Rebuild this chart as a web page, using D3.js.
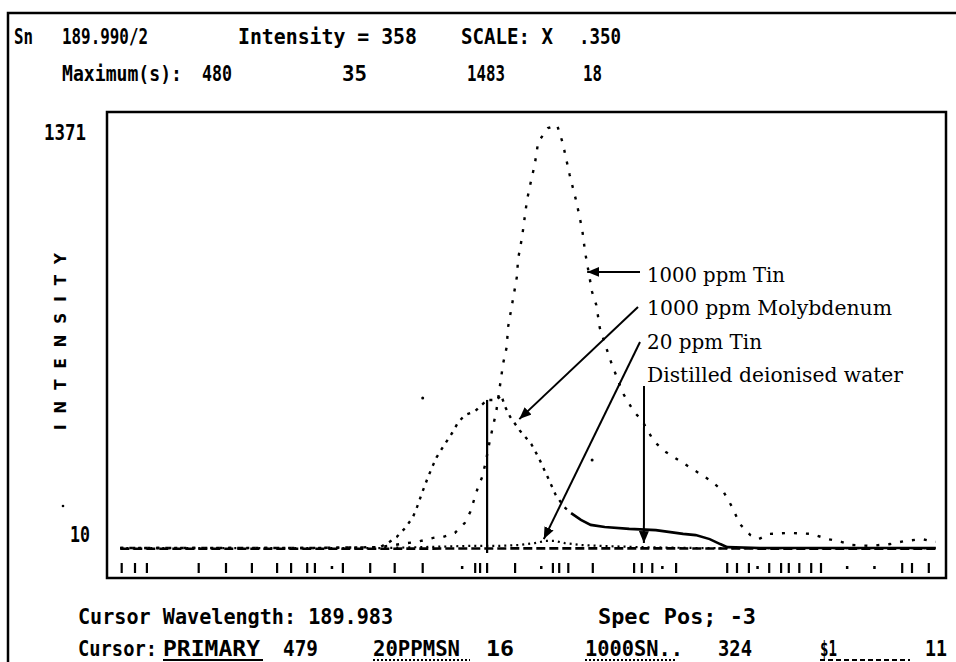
<!DOCTYPE html>
<html><head><meta charset="utf-8">
<script src="https://cdn.jsdelivr.net/npm/d3@7"></script>
<style>body{margin:0;background:#fff}svg{display:block}</style>
</head><body><svg id="c" width="956" height="662"></svg>
<script>
// ---------- data (channel, intensity) ----------
const tin1000 = [[1.9,3],[13.3,3],[27.6,3],[39.0,6],[41.9,16],[44.3,23],[46.6,36],[48.0,39],[49.7,52],[51.1,84],[51.9,120],[53.0,200],[53.6,233],[54.1,281],[54.7,352],[55.6,443],[56.6,601],[57.1,653],[57.3,718],[57.9,795],[58.6,886],[58.7,934],[59.3,1009],[60.0,1128],[60.6,1193],[61.1,1242],[61.6,1316],[63.0,1361],[64.3,1371],[65.1,1313],[66.1,1209],[67.0,1128],[67.4,1086],[67.9,1031],[68.3,960],[69.3,831],[69.9,789],[70.4,715],[71.9,611],[73.7,504],[75.3,443],[76.4,417],[78.1,349],[79.6,317],[82.3,278],[84.1,252],[86.1,223],[88.0,188],[89.3,136],[90.4,81],[91.9,45],[93.1,32],[94.7,49],[97.6,52],[100.6,49],[103.0,32],[104.9,23],[106.4,13],[109.0,10],[111.9,16],[114.0,26],[116.4,32],[118.4,23]];
const moly1000 = [[1.9,3],[27.6,3],[39.0,6],[40.1,19],[41.4,39],[42.6,68],[43.7,103],[44.3,136],[45.0,181],[45.7,223],[46.4,262],[47.1,297],[48.0,330],[49.3,375],[50.1,407],[51.1,433],[52.6,446],[54.3,482],[55.7,482],[56.3,498],[56.9,459],[57.6,427],[59.0,382],[60.6,340],[61.7,294],[63.0,230],[64.1,175],[65.3,136],[66.3,116],[67.7,94],[69.1,78],[71.1,71],[74.6,65],[78.4,61],[82.3,49],[84.1,45],[86.1,32],[87.6,16],[88.6,6],[93.3,3],[118.4,3]];
const molySolidFrom = 66.3;
const tin20 = [[1.9,3],[39.0,3],[44.7,6],[51.9,10],[56.1,10],[59.0,13],[61.1,19],[62.6,26],[64.0,26],[65.4,19],[67.6,13],[70.4,10],[76.1,6],[84.7,3],[118.4,3]];
const water = [[1.9,1],[40,1],[60,2],[80,2],[100,1],[118.4,1]];
const specks = [[45.1,488],[69.3,288]];
const cursorChannel = 54.3;
const cursorTop = 482;
const lineMarks = [2.1,4.0,5.7,13.1,17.0,20.7,24.3,26.3,28.6,29.7,33.7,37.6,41.1,45.1,52.6,53.3,54.3,58.3,63.7,64.6,65.9,69.4,75.3,76.4,77.9,81.3,88.6,90.0,91.7,94.6,96.3,97.4,98.9,100.6,102.0,113.6,115.0,117.4];
const dotMarks = [32.1,50.7,62.0,79.3,92.9,105.7,109.6];
const yTicks = [10,1371];
const yLabel = "INTENSITY";
const header1 = ["Sn","189.990/2","Intensity = 358","SCALE: X",".350"];
const header2 = ["Maximum(s):","480","35","1483","18"];
const footer1 = ["Cursor Wavelength: 189.983","Spec Pos;  -3"];
const footer2 = ["Cursor:","PRIMARY","479","20PPMSN","16","1000SN..","324","$1","11"];
const annotations = [
  {label:"1000 ppm Tin", tip:[68.6,896]},
  {label:"1000 ppm Molybdenum", tip:[58.9,420]},
  {label:"20 ppm Tin", tip:[62.4,32]},
  {label:"Distilled deionised water", tip:[76.7,19]}
];

// ---------- drawing ----------
const svg = d3.select("#c");
const x = d3.scaleLinear().domain([0,120]).range([107,947]);
const y = d3.scaleLinear().domain([0,1371]).range([549,125]);
const line = d3.line().x(d=>x(d[0])).y(d=>y(d[1]));

svg.append("rect").attr("width",956).attr("height",662).attr("fill","#fff");
const defs = svg.append("defs");
defs.append("marker").attr("id","ah").attr("viewBox","0 0 12 10").attr("refX",12).attr("refY",5)
  .attr("markerWidth",12).attr("markerHeight",10).attr("markerUnits","userSpaceOnUse").attr("orient","auto")
  .append("path").attr("d","M0,0L12,5L0,10Z").attr("fill","#000");

// outer frame
svg.append("path").attr("d","M8,662V13H956").attr("fill","none").attr("stroke","#000").attr("stroke-width",2.5);

// terminal-style text: uniform monospace, stretched vertically, fitted to width
const mono = "'DejaVu Sans Mono', monospace";
function termText(data, xs, ws, yPos){
  const gg = svg.append("g");
  gg.selectAll("g").data(data).join("g")
    .attr("transform",(d,i)=>`translate(${xs[i]},${typeof yPos==="function"?yPos(d,i):yPos}) scale(1,1.35)`)
    .append("text").attr("x",0).attr("y",0)
    .attr("font-family",mono).attr("font-weight","bold").attr("font-size",16)
    .attr("textLength",(d,i)=>ws[i]).attr("lengthAdjust","spacingAndGlyphs").text(d=>d);
}

// header
termText(header1, [14,62,238,461,579], [19,86,179,92,42], 44);
termText(header2, [62,202,342,467,583], [120,30,25,38,19], 81);

// plot frame
svg.append("rect").attr("x",x(0)).attr("y",112).attr("width",x(120)-x(0)-1).attr("height",578-112)
  .attr("fill","none").attr("stroke","#000").attr("stroke-width",2.5);

// y tick labels (placed from the y scale)
const yLabOff = [-4, 15];
termText(yTicks.map(String), [70,44], [20,42], (d,i)=>y(yTicks[i])+yLabOff[i]);

// y axis label
svg.append("text").attr("transform","translate(66,430) rotate(-90)")
  .attr("font-family","'DejaVu Sans', sans-serif").attr("font-weight","bold").attr("font-size",15)
  .attr("textLength",177).attr("lengthAdjust","spacing").text(yLabel);
svg.append("circle").attr("cx",63).attr("cy",506).attr("r",1.3).attr("fill","#000");

// series
const g = svg.append("g");
g.append("path").attr("d",line(water)).attr("fill","none").attr("stroke","#000").attr("stroke-width",2.6).attr("stroke-dasharray","9,4");
g.append("path").attr("d",line(tin20)).attr("fill","none").attr("stroke","#000").attr("stroke-width",2.2).attr("stroke-dasharray","2,4");
g.append("path").attr("d",line(moly1000.filter(d=>d[0]<=molySolidFrom))).attr("fill","none").attr("stroke","#000").attr("stroke-width",2.4).attr("stroke-dasharray","3,6");
g.append("path").attr("d",line(moly1000.filter(d=>d[0]>=molySolidFrom))).attr("fill","none").attr("stroke","#000").attr("stroke-width",2.6);
g.append("path").attr("d",line(tin1000)).attr("fill","none").attr("stroke","#000").attr("stroke-width",2.4).attr("stroke-dasharray","3,9");
g.selectAll(".sp").data(specks).join("circle").attr("cx",d=>x(d[0])).attr("cy",d=>y(d[1])).attr("r",1.5).attr("fill","#000");
// cursor
g.append("line").attr("x1",x(cursorChannel)).attr("x2",x(cursorChannel)).attr("y1",y(cursorTop)).attr("y2",y(0)+4)
  .attr("stroke","#000").attr("stroke-width",2.2);

// spectral line marks
g.selectAll(".lm").data(lineMarks).join("line").attr("x1",d=>x(d)).attr("x2",d=>x(d)).attr("y1",563).attr("y2",573)
  .attr("stroke","#000").attr("stroke-width",2.2);
g.selectAll(".dm").data(dotMarks).join("rect").attr("x",d=>x(d)-1).attr("y",566).attr("width",2.5).attr("height",3).attr("fill","#000");

// annotations
const serif = "'DejaVu Serif', serif";
const aBase=[282,315,349,382], aW=[138,245,115,256];
const aStart=[[640,272],[638,307],[640,342],[644,386]];
svg.selectAll(".an").data(annotations).join("text").attr("x",647).attr("y",(d,i)=>aBase[i])
  .attr("font-family",serif).attr("font-size",20).attr("textLength",(d,i)=>aW[i]).attr("lengthAdjust","spacingAndGlyphs").text(d=>d.label);
svg.selectAll(".ar").data(annotations).join("line")
  .attr("x1",(d,i)=>aStart[i][0]).attr("y1",(d,i)=>aStart[i][1])
  .attr("x2",d=>x(d.tip[0])).attr("y2",d=>y(d.tip[1]))
  .attr("stroke","#000").attr("stroke-width",2).attr("marker-end","url(#ah)");

// footer
termText(footer1, [78,598], [315,158], 624);
termText(footer2, [78,163,283,373,486,585,718,820,925], [79,97,35,87,28,98,34,17,22], 656);
// underlines of cursor names
const ul = [[163,263,null],[373,470,"2,2"],[585,676,"2,2"],[820,910,"5,3"]];
svg.selectAll(".ul").data(ul).join("line").attr("x1",d=>d[0]).attr("x2",d=>d[1]).attr("y1",660).attr("y2",660)
  .attr("stroke","#000").attr("stroke-width",2).attr("stroke-dasharray",d=>d[2]);
</script></body></html>
